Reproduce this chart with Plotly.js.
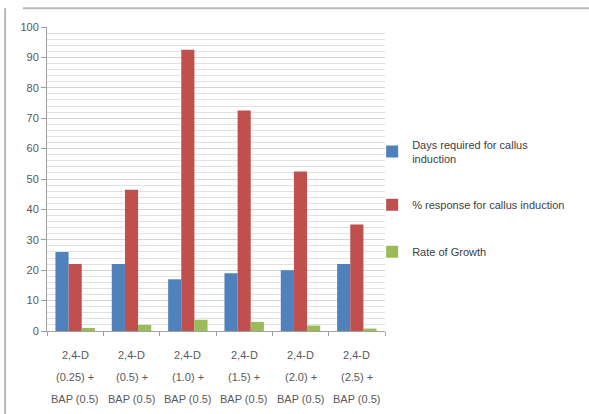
<!DOCTYPE html>
<html><head><meta charset="utf-8">
<script src="https://cdn.plot.ly/plotly-3.0.1.min.js"></script>
<style>html,body{margin:0;padding:0;background:#fff;}#c{width:589px;height:414px;}</style>
</head><body><div id="c"></div>
<script>
const categories = ["2,4-D (0.25) + BAP (0.5)","2,4-D (0.5) + BAP (0.5)","2,4-D (1.0) + BAP (0.5)","2,4-D (1.5) + BAP (0.5)","2,4-D (2.0) + BAP (0.5)","2,4-D (2.5) + BAP (0.5)"];
const labelLine1 = ["2,4-D","2,4-D","2,4-D","2,4-D","2,4-D","2,4-D"];
const labelLine2 = ["(0.25) +","(0.5) +","(1.0) +","(1.5) +","(2.0) +","(2.5) +"];
const labelLine3 = ["BAP (0.5)","BAP (0.5)","BAP (0.5)","BAP (0.5)","BAP (0.5)","BAP (0.5)"];
const seriesNames = ["Days required for callus<br>induction","% response for callus induction","Rate of Growth"];
const daysRequired = [26, 22, 17, 19, 20, 22];
const percentResponse = [22, 46.5, 92.5, 72.5, 52.5, 35];
const rateOfGrowth = [1, 2, 3.7, 3, 1.8, 0.8];
const yTicks = [0,10,20,30,40,50,60,70,80,90,100];

const colors = ["#4F81BD","#C0504D","#9BBB59"];
const font = "Liberation Sans, Arial, sans-serif";
const series = [daysRequired, percentResponse, rateOfGrowth];
const traces = series.map((v,i)=>({
  type:'bar', x:categories, y:v, name:seriesNames[i], legendgroup:'g'+i,
  marker:{color:colors[i]}, hoverinfo:'skip'
}));

const annotations = [];
[labelLine1,labelLine2,labelLine3].forEach((line,j)=>{
  line.forEach((t,i)=>{
    annotations.push({xref:'x',yref:'paper',x:categories[i],y:0,yanchor:'middle',
      yshift:-(24+j*22),text:t,showarrow:false,font:{family:font,size:11,color:'#595959'}});
  });
});

const layout = {
  width:589, height:414,
  margin:{l:47,r:204,t:27,b:83},
  paper_bgcolor:'#ffffff', plot_bgcolor:'#ffffff',
  barmode:'group', bargap:0.3, bargroupgap:0,
  font:{family:font,size:11,color:'#595959'},
  showlegend:true,
  legend:{x:0.962,y:0.435,xanchor:'left',yanchor:'middle',tracegroupgap:28,
    font:{family:font,size:11,color:'#404040'},itemwidth:30,bgcolor:'rgba(0,0,0,0)'},
  xaxis:{showticklabels:false,showline:true,linecolor:'#a0a0a0',linewidth:1,automargin:false,
    ticks:'outside',ticklen:4,tickcolor:'#a0a0a0',tickson:'boundaries',showgrid:false,zeroline:false},
  yaxis:{range:[0,100],tickvals:yTicks,showline:true,linecolor:'#a0a0a0',linewidth:1,automargin:false,
    ticks:'outside',ticklen:5,tickcolor:'#a0a0a0',gridcolor:'#d4d4d4',gridwidth:1,zeroline:false,
    tickfont:{family:font,size:11,color:'#595959'},
    minor:{dtick:2,showgrid:true,gridcolor:'#e2e2e2',gridwidth:1}},
  annotations:annotations,
  shapes:[
    {type:'line',xref:'paper',yref:'paper',x0:-0.071,x1:1.7,y0:1.062,y1:1.062,line:{color:'#b8b8b8',width:2}},
    {type:'line',xref:'paper',yref:'paper',x0:-0.124,x1:-0.124,y0:1.062,y1:-0.3,line:{color:'#b8b8b8',width:2}}
  ]
};
Plotly.newPlot('c',traces,layout,{displayModeBar:false,staticPlot:true});
</script></body></html>
